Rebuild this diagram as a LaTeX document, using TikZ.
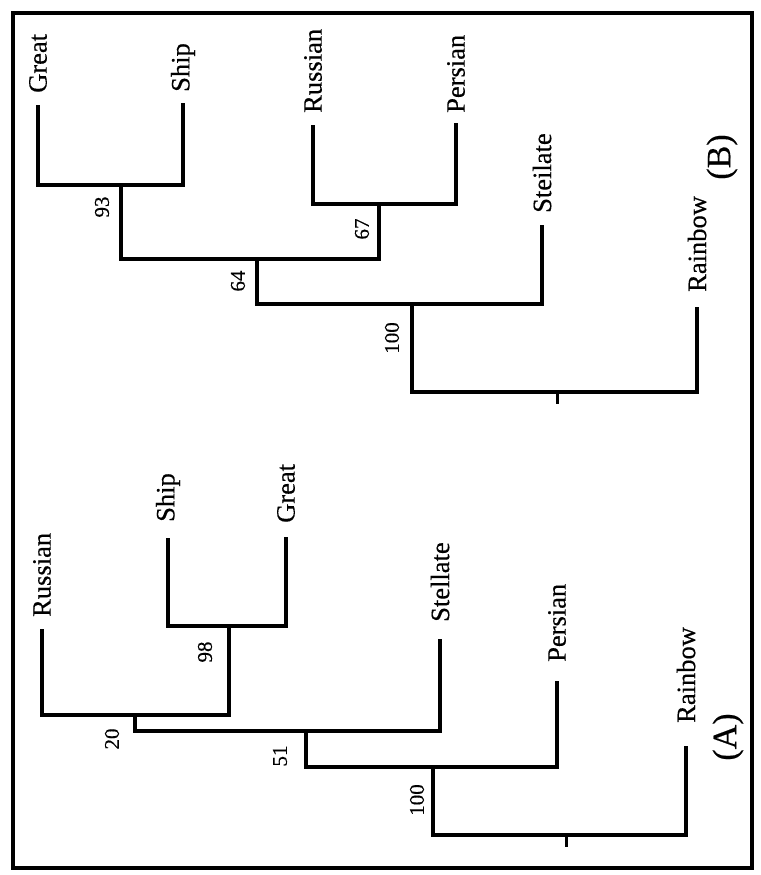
\documentclass[tikz,border=0pt]{standalone}
\usepackage{fontspec}
\setmainfont{Liberation Serif}[FakeBold=0.4]
\usetikzlibrary{positioning}

\tikzset{
  branch/.style={line width=4.6pt, line join=miter},
  taxon/.style={rotate=90, anchor=west, inner sep=0pt, font=\fontsize{26.5}{30}\selectfont},
  support/.style={rotate=90, inner sep=0pt, font=\fontsize{21}{24}\selectfont},
  panel/.style={rotate=90, inner sep=0pt, font=\fontsize{34}{38}\selectfont},
}

\begin{document}
\begin{tikzpicture}[x=1pt, y=-1pt]
  \useasboundingbox (0,0) rectangle (760,875);
  \draw[line width=4.6pt] (13,13) rectangle (752,868);

  % tree B (top)
  \coordinate (bGreat) at (38,105);
  \coordinate (bShip) at (183,103);
  \coordinate (bRussian) at (313,125);
  \coordinate (bPersian) at (456,123);
  \coordinate (bSteilate) at (542,225);
  \coordinate (bRainbow) at (697,307);
  \coordinate (b93) at (121,185);
  \coordinate (b67) at (379,204);
  \coordinate (b64) at (257,259);
  \coordinate (b100) at (412,304);
  \coordinate (bRoot) at (557,392);
  \coordinate (bStem) at (557,404);

  \node[taxon] (bGreatL) at ([yshift=12pt]bGreat) {Great};
  \node[taxon] (bShipL) at ([yshift=11pt]bShip) {Ship};
  \node[taxon] (bRussianL) at ([yshift=12pt]bRussian) {Russian};
  \node[taxon] (bPersianL) at ([yshift=10pt]bPersian) {Persian};
  \node[taxon] (bSteilateL) at ([yshift=12pt]bSteilate) {Steilate};
  \node[taxon] (bRainbowL) at ([yshift=15pt]bRainbow) {Rainbow};

  \draw[branch] (bGreat) |- (b93) -| (bShip);
  \draw[branch] (bRussian) |- (b67) -| (bPersian);
  \draw[branch] (b93) |- (b64) -| (b67);
  \draw[branch] (b64) |- (b100) -| (bSteilate);
  \draw[branch] (b100) |- (bRoot) -| (bRainbow);
  \draw[line width=3pt] (bRoot) -- (bStem);

  \node[support] (s93) at ([shift={(-19pt,-22pt)}]b93) {93};
  \node[support] (s67) at ([shift={(-17pt,-25pt)}]b67) {67};
  \node[support] (s64) at ([shift={(-19pt,-22pt)}]b64) {64};
  \node[support] (s100b) at ([shift={(-20pt,-34pt)}]b100) {100};
  \node[panel] (panelB) at (722,157) {(B)};

  % tree A (bottom)
  \coordinate (aRussian) at (42,629);
  \coordinate (aShip) at (168,538);
  \coordinate (aGreat) at (286,537);
  \coordinate (aStellate) at (440,639);
  \coordinate (aPersian) at (557,681);
  \coordinate (aRainbow) at (686,746);
  \coordinate (a98) at (229,626);
  \coordinate (a20) at (135,715);
  \coordinate (a51) at (306,731);
  \coordinate (a100) at (433,767);
  \coordinate (aRoot) at (566,835);
  \coordinate (aStem) at (566,847);

  \node[taxon] (aRussianL) at ([yshift=12pt]aRussian) {Russian};
  \node[taxon] (aShipL) at ([yshift=16pt]aShip) {Ship};
  \node[taxon] (aGreatL) at ([yshift=14pt]aGreat) {Great};
  \node[taxon] (aStellateL) at ([yshift=17pt]aStellate) {Stellate};
  \node[taxon] (aPersianL) at ([yshift=19pt]aPersian) {Persian};
  \node[taxon] (aRainbowL) at ([yshift=23pt]aRainbow) {Rainbow};

  \draw[branch] (aShip) |- (a98) -| (aGreat);
  \draw[branch] (aRussian) |- (a20) -| (a98);
  \draw[branch] (a20) |- (a51) -| (aStellate);
  \draw[branch] (a51) |- (a100) -| (aPersian);
  \draw[branch] (a100) |- (aRoot) -| (aRainbow);
  \draw[line width=3pt] (aRoot) -- (aStem);

  \node[support] (s98) at ([shift={(-24pt,-26pt)}]a98) {98};
  \node[support] (s20) at ([shift={(-23pt,-24pt)}]a20) {20};
  \node[support] (s51) at ([shift={(-26pt,-25pt)}]a51) {51};
  \node[support] (s100a) at ([shift={(-16pt,-33pt)}]a100) {100};
  \node[panel] (panelA) at (728,737) {(A)};
\end{tikzpicture}
\end{document}
